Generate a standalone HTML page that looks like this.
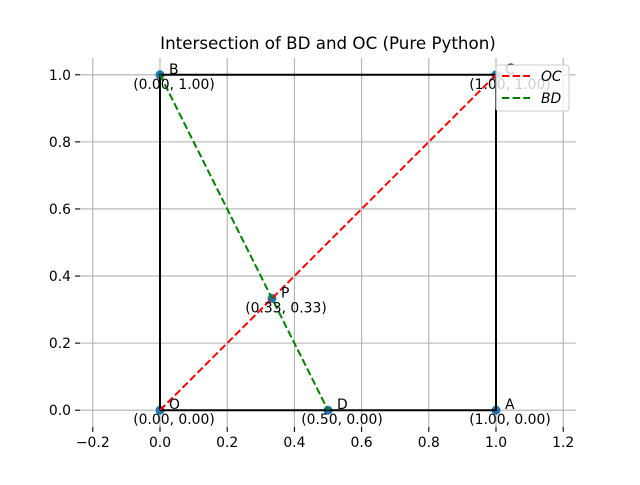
<!DOCTYPE html>
<html><head><meta charset="utf-8"><style>
body{margin:0;background:#fff}
text{font-family:"DejaVu Sans","Liberation Sans",sans-serif}
</style></head><body>
<svg id="c" width="640" height="480" xmlns="http://www.w3.org/2000/svg"></svg>
<script>
const pointNames=['O','A','B','C','D','P'];
const pointX=[0,1,0,1,0.5,0.3333];
const pointY=[0,0,1,1,0,0.3333];
const xTicks=[-0.2,0,0.2,0.4,0.6,0.8,1.0,1.2];
const yTicks=[0,0.2,0.4,0.6,0.8,1.0];
const L=80,R=576,T=58,B=427;
const xmin=-0.2381,xmax=1.2381,ymin=-0.05,ymax=1.05;
const X=v=>L+(v-xmin)/(xmax-xmin)*(R-L);
const Y=v=>B-(v-ymin)/(ymax-ymin)*(B-T);
const svg=document.getElementById('c');
const NS='http://www.w3.org/2000/svg';
function mk(t,a,p){const e=document.createElementNS(NS,t);for(const k in a)e.setAttribute(k,a[k]);(p||svg).appendChild(e);return e;}
let e;
xTicks.forEach(v=>{
 e=mk('line',{x1:X(v),x2:X(v),y1:T,y2:B,stroke:'#b0b0b0','stroke-width':1.1});
 
 
 e=mk('line',{x1:X(v),x2:X(v),y1:B,y2:B+4.9,stroke:'#000','stroke-width':1.1});
 
 
 e=mk('text',{x:X(v),y:B+20,'text-anchor':'middle','font-size':13.9});
 e.textContent=(v<0?'\u2212':'')+Math.abs(v).toFixed(1);
 
 
});
yTicks.forEach(v=>{
 e=mk('line',{x1:L,x2:R,y1:Y(v),y2:Y(v),stroke:'#b0b0b0','stroke-width':1.1});
 
 
 e=mk('line',{x1:L-4.9,x2:L,y1:Y(v),y2:Y(v),stroke:'#000','stroke-width':1.1});
 
 
 e=mk('text',{x:L-9,y:Y(v)+5,'text-anchor':'end','font-size':13.9});
 e.textContent=v.toFixed(1);
 
 
});
pointNames.forEach((n,i)=>{
 e=mk('circle',{cx:X(pointX[i]),cy:Y(pointY[i]),r:4.5,fill:'#1f77b4'});
 
 
});
const sq=[0,1,3,2,0].map(i=>X(pointX[i])+','+Y(pointY[i])).join(' ');
e=mk('polyline',{points:sq,fill:'none',stroke:'#000','stroke-width':2});


e=mk('line',{x1:X(pointX[0]),y1:Y(pointY[0]),x2:X(pointX[3]),y2:Y(pointY[3]),stroke:'red','stroke-width':2,'stroke-dasharray':'7.4,3.2'});


e=mk('line',{x1:X(pointX[2]),y1:Y(pointY[2]),x2:X(pointX[4]),y2:Y(pointY[4]),stroke:'green','stroke-width':2,'stroke-dasharray':'7.4,3.2'});


pointNames.forEach((n,i)=>{
 const px=X(pointX[i]),py=Y(pointY[i]);
 e=mk('text',{x:px+9,y:py-1,'font-size':13.9});
 e.textContent=n;
 
 
 e=mk('text',{x:px+14,y:py+14,'text-anchor':'middle','font-size':13.9});
 e.textContent='('+pointX[i].toFixed(2)+', '+pointY[i].toFixed(2)+')';
 
 
});
e=mk('text',{x:(L+R)/2,y:49,'text-anchor':'middle','font-size':16.7});
e.textContent='Intersection of BD and OC (Pure Python)';


const g=mk('g',{});


mk('rect',{x:496,y:65,width:73,height:46,rx:3,fill:'#fff','fill-opacity':0.8,stroke:'#ccc'},g);
[['OC','red',76],['BD','green',98]].forEach(([t,c,y])=>{
 e=mk('line',{x1:502,x2:530,y1:y,y2:y,stroke:c,'stroke-width':2,'stroke-dasharray':'7.4,3.2'},g);
 
 
 e=mk('text',{x:541,y:y+5,'font-size':13.9,'font-style':'italic'},g);
 e.textContent=t;
 
 
});
</script>
</body></html>
